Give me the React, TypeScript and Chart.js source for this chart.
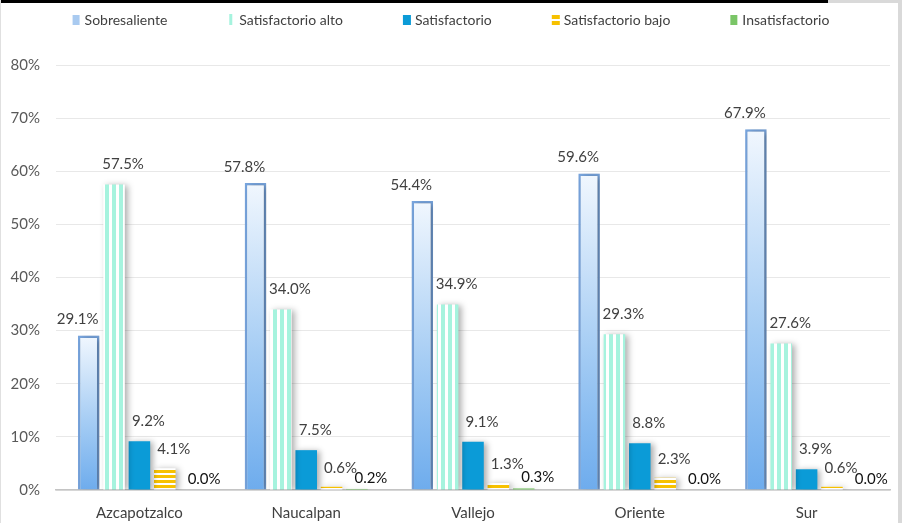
import React, { useEffect, useRef } from 'react';
import { Chart, registerables } from 'chart.js';

Chart.register(...registerables);

const categories = ['Azcapotzalco', 'Naucalpan', 'Vallejo', 'Oriente', 'Sur'];
const seriesNames = ['Sobresaliente', 'Satisfactorio alto', 'Satisfactorio', 'Satisfactorio bajo', 'Insatisfactorio'];
const sobresaliente = [29.1, 57.8, 54.4, 59.6, 67.9];
const satisfactorioAlto = [57.5, 34.0, 34.9, 29.3, 27.6];
const satisfactorio = [9.2, 7.5, 9.1, 8.8, 3.9];
const satisfactorioBajo = [4.1, 0.6, 1.3, 2.3, 0.6];
const insatisfactorio = [0.0, 0.2, 0.3, 0.0, 0.0];
const yMax = 80;
const yStep = 10;

const FONT = 'Lato, "Open Sans", sans-serif';
const AQUA = '#a6f3de';
const BLUE = '#0b9bd7';
const YELLOW = '#f7c100';
const GREEN = '#7ac567';

function vStripePattern(): CanvasPattern | string {
  const c = document.createElement('canvas');
  c.width = 7; c.height = 4;
  const x = c.getContext('2d');
  if (!x) return AQUA;
  x.fillStyle = '#ffffff'; x.fillRect(0, 0, 7, 4);
  x.fillStyle = AQUA; x.fillRect(0, 0, 4, 4);
  return x.createPattern(c, 'repeat') || AQUA;
}
function hStripePattern(): CanvasPattern | string {
  const c = document.createElement('canvas');
  c.width = 4; c.height = 5;
  const x = c.getContext('2d');
  if (!x) return YELLOW;
  x.fillStyle = '#ffffff'; x.fillRect(0, 0, 4, 5);
  x.fillStyle = YELLOW; x.fillRect(0, 0, 4, 3);
  return x.createPattern(c, 'repeat') || YELLOW;
}

const shadowPlugin = {
  id: 'barShadow',
  beforeDatasetsDraw(chart: any) {
    const ctx = chart.ctx;
    ctx.save();
    ctx.shadowColor = 'rgba(0,0,0,0.32)';
    ctx.shadowBlur = 6;
    ctx.shadowOffsetX = 3;
    ctx.shadowOffsetY = 1;
  },
  afterDatasetsDraw(chart: any) {
    chart.ctx.restore();
  },
};

const labelDX = [-11, 9, 9, 9, 14];
const labelDY = [16, 20, 20, 19, 11];

const labelPlugin = {
  id: 'valueLabels',
  afterDraw(chart: any) {
    const ctx = chart.ctx;
    ctx.save();
    ctx.font = `15px ${FONT}`;
    ctx.textAlign = 'center';
    ctx.textBaseline = 'middle';
    chart.data.datasets.forEach((ds: any, di: number) => {
      const meta = chart.getDatasetMeta(di);
      meta.data.forEach((bar: any, i: number) => {
        const v = ds.data[i] as number;
        ctx.fillStyle = di === 4 ? '#111111' : '#404040';
        ctx.fillText(v.toFixed(1) + '%', bar.x + labelDX[di], bar.y - labelDY[di]);
      });
    });
    ctx.restore();
  },
};

function drawSwatch(ctx: CanvasRenderingContext2D, di: number, x: number, y: number) {
  if (di === 0) {
    ctx.fillStyle = '#a9caf0';
    ctx.fillRect(x, y, 7, 10);
  } else if (di === 1) {
    ctx.fillStyle = AQUA;
    ctx.fillRect(x + 2, y - 1, 3, 11);
  } else if (di === 2) {
    ctx.fillStyle = BLUE;
    ctx.fillRect(x, y, 8, 10);
  } else if (di === 3) {
    ctx.fillStyle = YELLOW;
    ctx.fillRect(x, y, 8, 4);
    ctx.fillRect(x, y + 6, 8, 4);
  } else {
    ctx.fillStyle = GREEN;
    ctx.fillRect(x, y, 7, 10);
  }
}

const legendPlugin = {
  id: 'topLegend',
  afterDraw(chart: any) {
    const ctx = chart.ctx as CanvasRenderingContext2D;
    ctx.save();
    ctx.font = `14px ${FONT}`;
    ctx.textBaseline = 'middle';
    ctx.textAlign = 'left';
    const box = 8, gapIn = 4, gapOut = 60;
    const widths = seriesNames.map((n) => box + gapIn + ctx.measureText(n).width);
    const total = widths.reduce((a, b) => a + b, 0) + gapOut * (seriesNames.length - 1);
    let x = chart.width / 2 - total / 2;
    const yc = 20;
    seriesNames.forEach((n, i) => {
      drawSwatch(ctx, i, x, yc - 5);
      ctx.fillStyle = '#404040';
      ctx.fillText(n, x + box + gapIn, yc);
      x += widths[i] + gapOut;
    });
    ctx.restore();
  },
};

export default function App() {
  const ref = useRef<HTMLCanvasElement>(null);
  useEffect(() => {
    if (!ref.current) return;
    const vPat = vStripePattern();
    const hPat = hStripePattern();
    const gradient = (c: any) => {
      const chart = c.chart;
      const fallback = '#9fc5ef';
      if (!chart.chartArea || c.type !== 'data') return fallback;
      const y = chart.scales.y;
      const top = y.getPixelForValue(c.raw as number);
      const bot = y.getPixelForValue(0);
      if (!isFinite(top) || !isFinite(bot) || bot - top < 1) return fallback;
      const g = chart.ctx.createLinearGradient(0, top, 0, bot);
      g.addColorStop(0, '#f1f7fe');
      g.addColorStop(0.55, '#a6cdf4');
      g.addColorStop(1, '#6eaced');
      return g;
    };
    const common = { categoryPercentage: 0.76, barPercentage: 0.85 };
    const chart = new Chart(ref.current, {
      type: 'bar',
      data: {
        labels: categories,
        datasets: [
          { label: seriesNames[0], data: sobresaliente, backgroundColor: gradient, borderColor: '#78a5de', borderWidth: 2.5, ...common },
          { label: seriesNames[1], data: satisfactorioAlto, backgroundColor: vPat as any, borderWidth: 0, ...common },
          { label: seriesNames[2], data: satisfactorio, backgroundColor: BLUE, borderWidth: 0, ...common },
          { label: seriesNames[3], data: satisfactorioBajo, backgroundColor: hPat as any, borderWidth: 0, ...common },
          { label: seriesNames[4], data: insatisfactorio, backgroundColor: GREEN, borderWidth: 0, ...common },
        ],
      },
      options: {
        responsive: false,
        animation: false,
        devicePixelRatio: 1,
        layout: { padding: { top: 65, right: 12, bottom: 2, left: 8 } },
        plugins: {
          legend: { display: false },
          tooltip: { enabled: false },
        },
        scales: {
          x: {
            afterFit: (s: any) => { s.height = 31; },
            grid: { display: false },
            border: { display: true, color: '#c4c4c4', width: 1.5 },
            ticks: { color: '#404040', font: { family: FONT, size: 15 }, padding: 6 },
          },
          y: {
            min: 0,
            max: yMax,
            afterFit: (s: any) => { s.width = 48; },
            grid: { color: '#e8e8e8', drawTicks: false },
            border: { display: false },
            ticks: {
              stepSize: yStep,
              padding: 16,
              color: '#595959',
              font: { family: FONT, size: 15 },
              callback: (v: any) => v + '%',
            },
          },
        },
      },
      plugins: [shadowPlugin, labelPlugin, legendPlugin],
    });
    return () => chart.destroy();
  }, []);

  return (
    <div style={{ position: 'absolute', left: 0, top: 0, width: 902, height: 523, background: '#ffffff', overflow: 'hidden' }}>
      <canvas ref={ref} width={902} height={523} style={{ display: 'block' }} />
      <div style={{ position: 'absolute', left: 0, top: 0, width: 828, height: 3, background: '#000000' }} />
      <div style={{ position: 'absolute', left: 828, top: 0, width: 74, height: 3, background: '#d9d9d9' }} />
      <div style={{ position: 'absolute', left: 898, top: 0, width: 4, height: 523, background: '#d9d9d9' }} />
      <div style={{ position: 'absolute', left: 0, top: 0, width: 1, height: 523, background: '#e0e0e0' }} />
    </div>
  );
}
